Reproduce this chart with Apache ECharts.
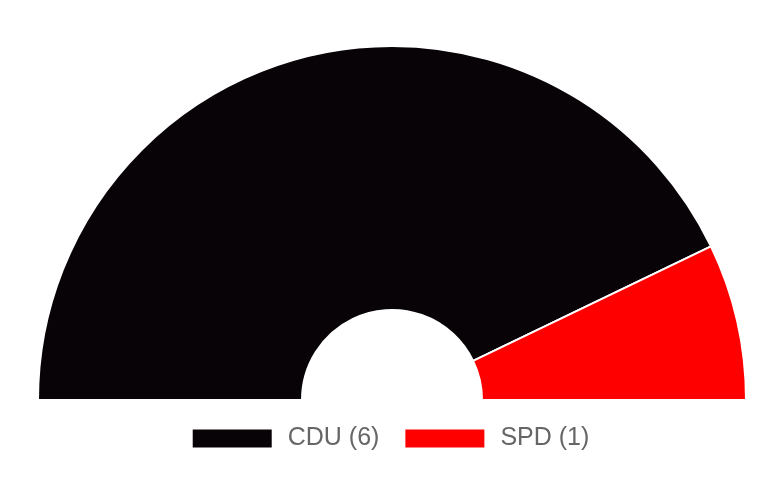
<!DOCTYPE html>
<html>
<head>
<meta charset="utf-8">
<script src="https://cdn.jsdelivr.net/npm/echarts@6/dist/echarts.min.js"></script>
<style>
  html,body{margin:0;padding:0;background:#fff;}
  #chart{width:780px;height:501px;}
</style>
</head>
<body>
<div id="chart"></div>
<script>
// seat distribution
var parties = ["CDU (6)", "SPD (1)"];
var seats = [6, 1];
var colors = ["#070307", "#ff0000"];

var ch = echarts.init(document.getElementById("chart"), null, {renderer:"canvas"});
ch.setOption({
  animation:false,
  backgroundColor:"#ffffff",
  legend:{
    data:parties,
    left:"center", top:421,
    itemWidth:81, itemHeight:20, itemGap:24,
    icon:"rect",
    textStyle:{color:"#666666", fontSize:25, fontFamily:"Liberation Sans", padding:[0,0,0,10]}
  },
  series:[{
    type:"pie",
    center:[392, 400],
    radius:[90, 354],
    startAngle:180, endAngle:0,
    clockwise:true,
    label:{show:false}, labelLine:{show:false},
    emphasis:{disabled:true},
    itemStyle:{borderColor:"#ffffff", borderWidth:2},
    data:parties.map(function(p, i){
      return {name:p, value:seats[i], itemStyle:{color:colors[i]}};
    })
  }]
});
</script>
</body>
</html>
